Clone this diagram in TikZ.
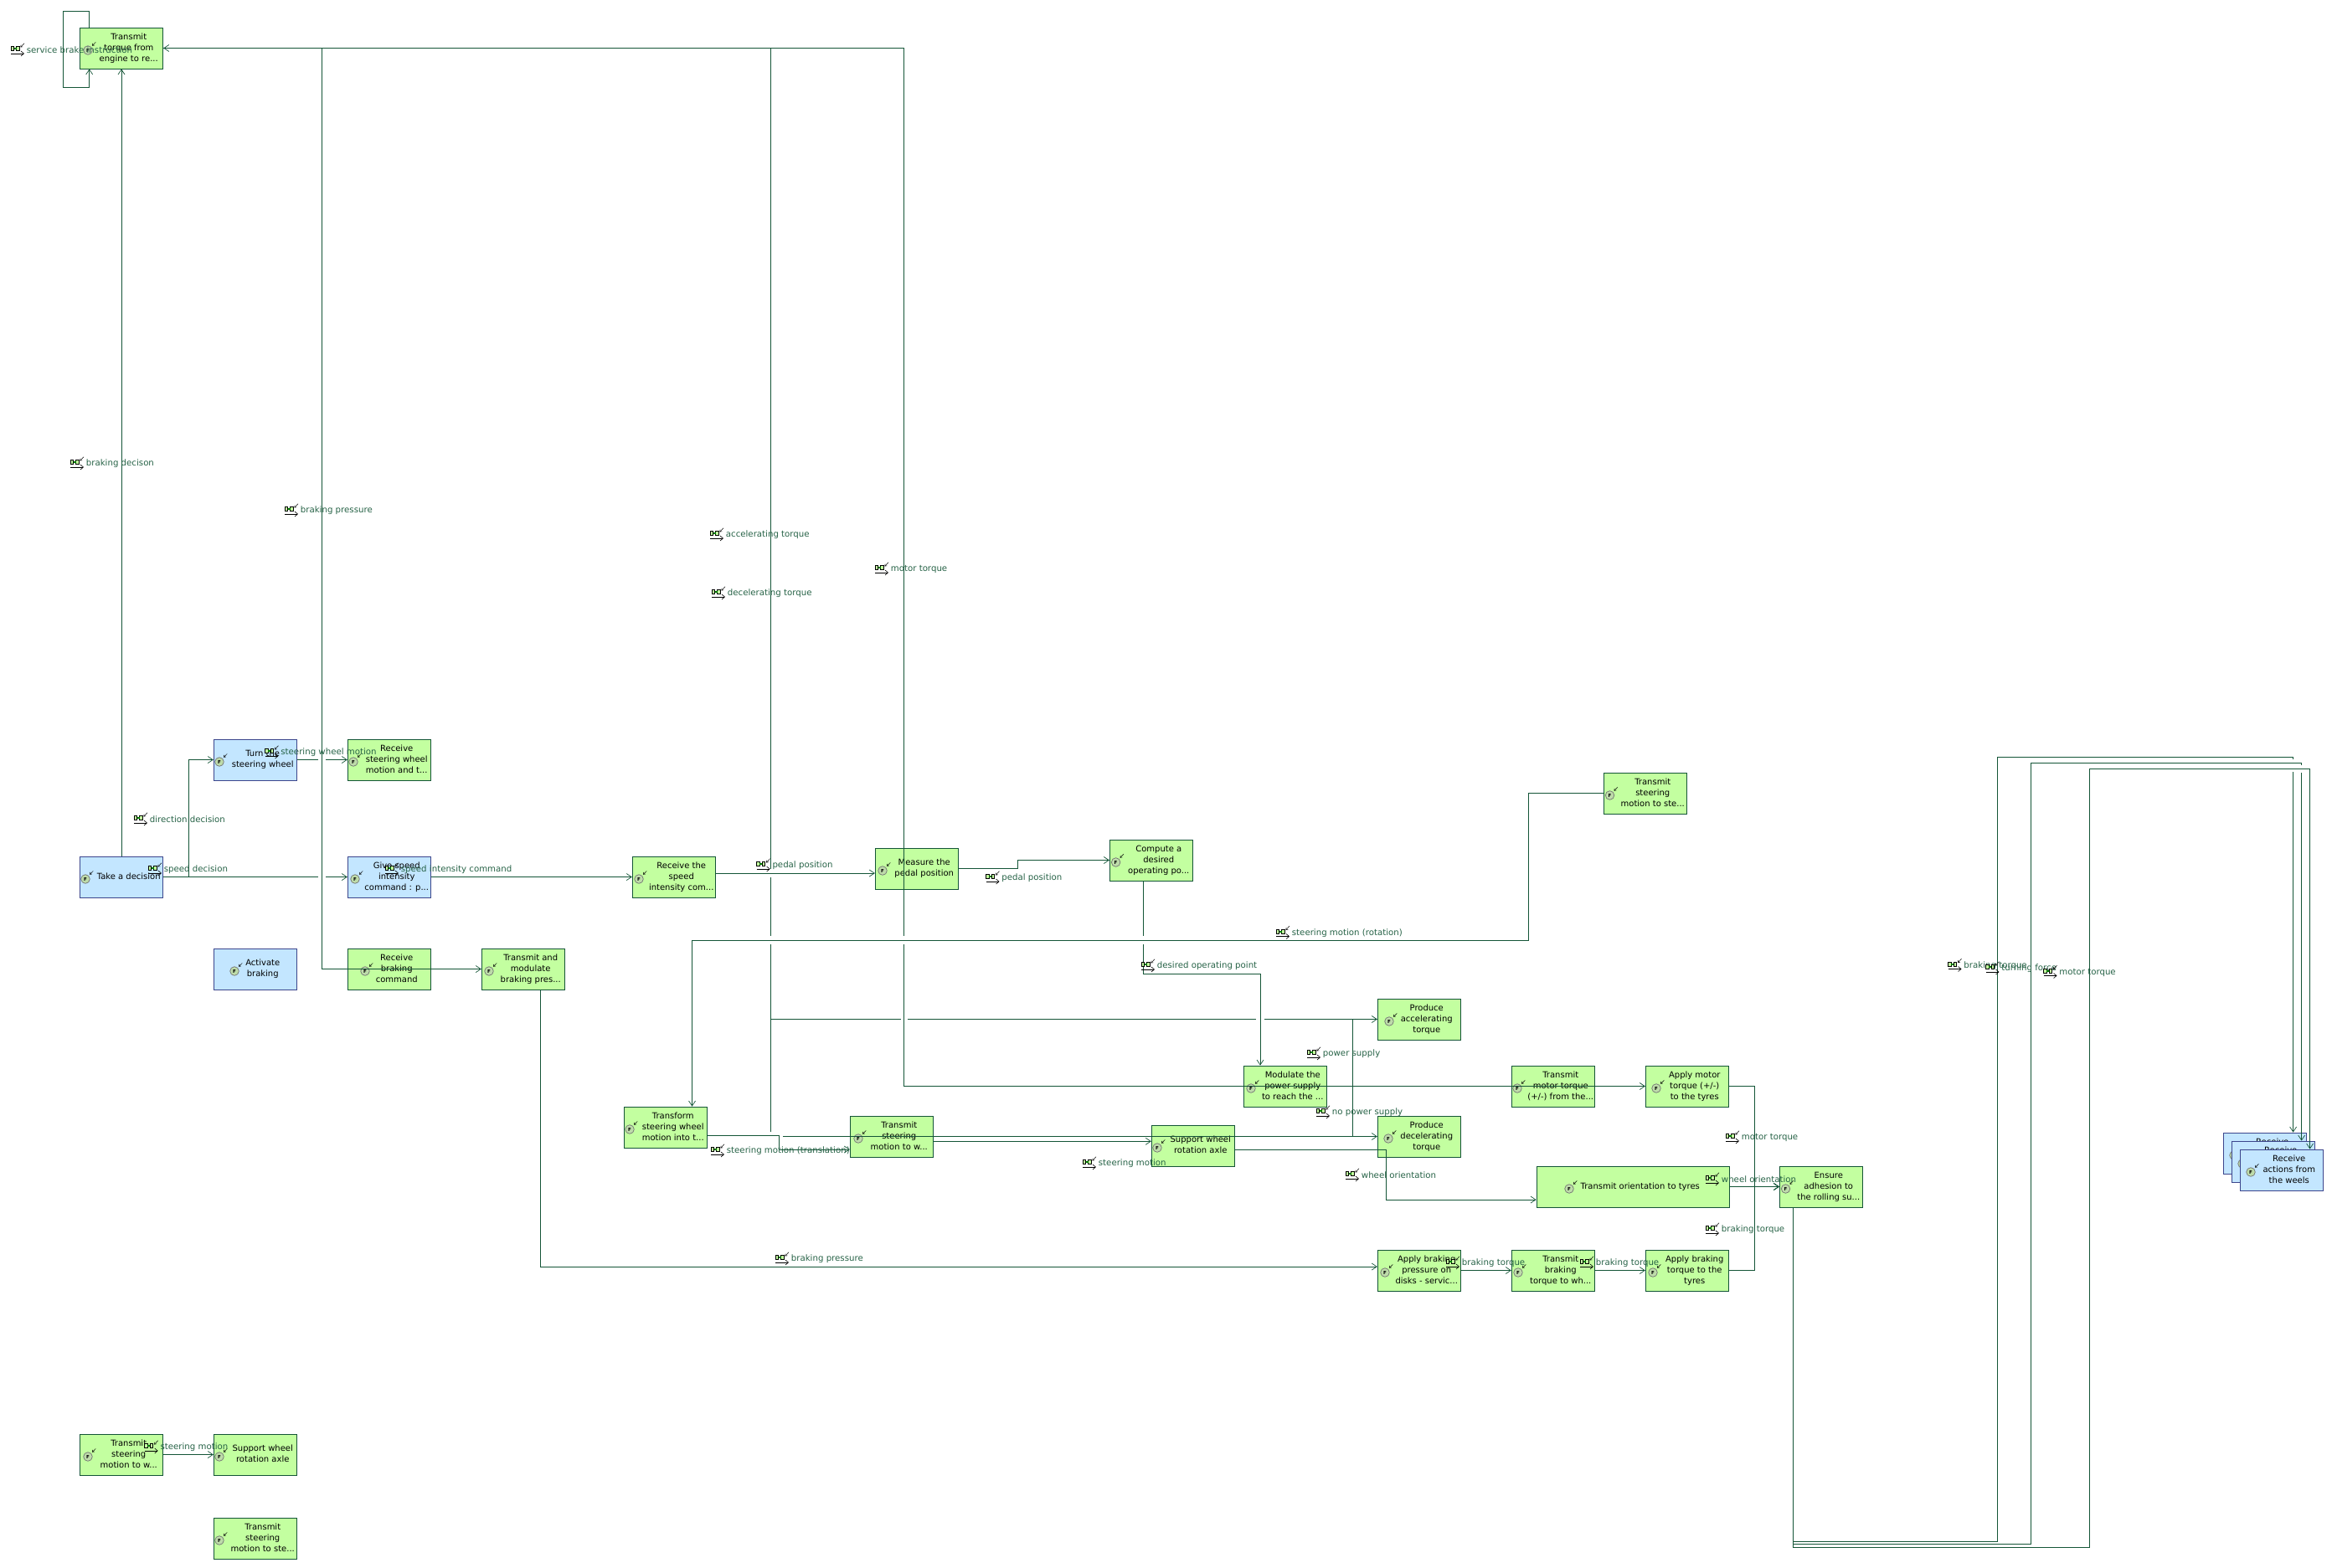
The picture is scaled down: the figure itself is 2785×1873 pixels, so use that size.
\documentclass[tikz,border=0pt]{standalone}
\usepackage{fontspec}
\setmainfont{DejaVu Sans}
\usepackage{xcolor}
\usetikzlibrary{arrows.meta}
\definecolor{FlowGreen}{RGB}{20,85,55}
\definecolor{LabelGreen}{RGB}{38,98,70}
\definecolor{FnGreen}{RGB}{195,255,160}
\definecolor{FnBlue}{RGB}{195,230,255}
\definecolor{ActorEdge}{RGB}{60,70,140}
\definecolor{MarkFill}{RGB}{190,220,170}
\newcommand{\fntext}[1]{\hspace*{17.5pt}\raisebox{-0.8pt}{\begin{tabular}{@{}c@{}}#1\end{tabular}}}

\begin{document}
\begin{tikzpicture}[x=1pt, y=-1pt, font=\fontsize{10}{13}\selectfont]
    \tikzset{
        greenfn/.style={rectangle, draw=FlowGreen, line width=0.75pt, fill=FnGreen,
            minimum width=99.5pt, minimum height=49pt, inner sep=0pt, align=center},
        bluefn/.style={greenfn, draw=ActorEdge, fill=FnBlue},
        flowline/.style={draw=FlowGreen, line width=0.7pt},
        flow/.style={flowline, -{Straight Barb[length=6pt,width=8pt]}},
        fxlabel/.style={anchor=west, inner sep=0pt, text=LabelGreen, font=\fontsize{10.2}{13}\selectfont},
        fnmark/.pic={
            \draw[black!55, fill=MarkFill, line width=0.7pt] (0,0) circle (5.3);
            \node[inner sep=0pt, font=\fontsize{5.5}{6}\selectfont\bfseries] (f) at (0,0) {F};
            \draw[black, line width=0.5pt, -{Straight Barb[length=2pt,width=3pt]}] (9.3,-9.7) -- (5,-5.3);
        },
        fxmark/.pic={
            \draw[black, line width=0.6pt, fill=FnGreen] (0,-4.5) rectangle (3.5,0.5);
            \draw[black, line width=0.6pt, fill=FnGreen] (6.5,-4.5) rectangle (10,0.5);
            \fill[green!50!black] (3.5,-3) rectangle (6.5,-1);
            \draw[black, line width=0.5pt, -{Straight Barb[length=2pt,width=3pt]}] (16,-8.3) -- (11.5,-3.5);
            \draw[black, line width=0.6pt, -{Straight Barb[length=3.5pt,width=6pt]}] (0,4) -- (16,4);
        }
    }
    \useasboundingbox (0,0) rectangle (2785,1873);
    \node[greenfn] (torque) at (145,57.5) {\fntext{Transmit\\torque from\\engine to re...}};
    \node[bluefn] (turnwheel) at (305,907.5) {\fntext{Turn the\\steering wheel}};
    \node[greenfn] (recvwheel) at (465,907.5) {\fntext{Receive\\steering wheel\\motion and t...}};
    \node[bluefn] (takedec) at (145,1047.5) {\fntext{Take a decision}};
    \node[bluefn] (givespeed) at (465,1047.5) {\fntext{Give speed\\intensity\\command : p...}};
    \node[bluefn] (activate) at (305,1157.5) {\fntext{Activate\\braking}};
    \node[greenfn] (recvbrake) at (465,1157.5) {\fntext{Receive\\braking\\command}};
    \node[greenfn] (transmod) at (625,1157.5) {\fntext{Transmit and\\modulate\\braking pres...}};
    \node[greenfn] (recvspeed) at (805,1047.5) {\fntext{Receive the\\speed\\intensity com...}};
    \node[greenfn] (measure) at (1095,1037.5) {\fntext{Measure the\\pedal position}};
    \node[greenfn] (compute) at (1375,1027.5) {\fntext{Compute a\\desired\\operating po...}};
    \node[greenfn] (tosteer) at (1965,947.5) {\fntext{Transmit\\steering\\motion to ste...}};
    \node[greenfn] (transform) at (795,1346.5) {\fntext{Transform\\steering wheel\\motion into t...}};
    \node[greenfn] (towheel) at (1065,1357.5) {\fntext{Transmit\\steering\\motion to w...}};
    \node[greenfn] (support) at (1425,1368.5) {\fntext{Support wheel\\rotation axle}};
    \node[greenfn] (prodacc) at (1695,1217.5) {\fntext{Produce\\accelerating\\torque}};
    \node[greenfn] (modulate) at (1535,1297.5) {\fntext{Modulate the\\power supply\\to reach the ...}};
    \node[greenfn] (motortr) at (1855,1297.5) {\fntext{Transmit\\motor torque\\(+/-) from the...}};
    \node[greenfn] (applymotor) at (2015,1297.5) {\fntext{Apply motor\\torque (+/-)\\to the tyres}};
    \node[greenfn] (proddec) at (1695,1357.5) {\fntext{Produce\\decelerating\\torque}};
    \node[greenfn, minimum width=230pt] (orient) at (1950,1417.5) {\fntext{Transmit orientation to tyres}};
    \node[greenfn] (ensure) at (2175,1417.5) {\fntext{Ensure\\adhesion to\\the rolling su...}};
    \node[greenfn] (brakedisk) at (1695,1517.5) {\fntext{Apply braking\\pressure on\\disks - servic...}};
    \node[greenfn] (braketr) at (1855,1517.5) {\fntext{Transmit\\braking\\torque to wh...}};
    \node[greenfn] (applybrake) at (2015,1517.5) {\fntext{Apply braking\\torque to the\\tyres}};
    \node[greenfn] (lowwheel) at (145,1737.5) {\fntext{Transmit\\steering\\motion to w...}};
    \node[greenfn] (lowsupport) at (305,1737.5) {\fntext{Support wheel\\rotation axle}};
    \node[greenfn] (lowsteer) at (305,1837.5) {\fntext{Transmit\\steering\\motion to ste...}};
    \foreach \ix/\iy [count=\ni] in {105/60, 262/910, 422/910, 102/1050, 424/1050, 280/1160,
            436/1160, 584/1160, 763/1050, 1054/1040, 1332.6/1030, 1922.5/950, 752/1349,
            1025/1360, 1382/1371, 1659/1220, 1494/1300, 1812/1300, 1978/1300, 1658/1360,
            1874/1420, 2132.5/1420, 1654/1520, 1813/1520, 1974/1520, 105/1740, 262/1740, 262/1840}
        \pic (icon\ni) at (\ix,\iy) {fnmark};
    \node[bluefn] (actionsa) at (2705,1377.5) {\fntext{Receive\\actions from\\the weels}};
    \pic (iconsa) at (2668,1380) {fnmark};
    \node[bluefn] (actionsb) at (2715,1387.5) {\fntext{Receive\\actions from\\the weels}};
    \pic (iconsb) at (2678,1390) {fnmark};
    \node[bluefn] (actionsc) at (2725,1397.5) {\fntext{Receive\\actions from\\the weels}};
    \pic (iconsc) at (2688,1400) {fnmark};
    \coordinate (acctap) at (920,1217.5);
    \coordinate (decstart) at (935,1357.5);
    \coordinate (dectee) at (1615.7,1217.5);
    \draw[flow] (torque.north -| 106.7,0) -- (106.7,13.3) -- (75.3,13.3) -- (75.3,104.3) -- (106.7,104.3) -- (torque.south -| 106.7,0);
    \draw[flow] (takedec.north) -- (torque.south);
    \draw[flow] (takedec.east) -- (225.5,1047.5) -- (225.5,907.5) -- (turnwheel.west);
    \draw[flow] (takedec.east) -- (380,1047.5) (389,1047.5) -- (givespeed.west);
    \draw[flow] (turnwheel.east) -- (380,907.5) (389,907.5) -- (recvwheel.west);
    \draw[flow] (givespeed.east) -- (recvspeed.west);
    \draw[flow] (torque.east) -- (384.5,57.5) -- (384.5,1157.5) -- (transmod.west);
    \draw[flow] (modulate.west) -- (1079.5,1297.5) -- (1079.5,1128) (1079.5,1118) -- (1079.5,57.5) -- (torque.east);
    \draw[flowline] (torque.east) -- (920.3,57.5) -- (920.3,1038) (920.3,1048) -- (920.3,1118) (920.3,1128) -- (920.3,1352);
    \draw[flow] (acctap) -- (1075.7,1217.5) (1084,1217.5) -- (1500,1217.5) (1510,1217.5) -- (prodacc.west);
    \draw[flowline] (dectee) -- (1615.7,1357.5);
    \draw[flow] (decstart) -- (proddec.west);
    \draw[flow] (recvspeed.east |- 0,1043) -- (measure.west |- 0,1043);
    \draw[flow] (measure.east) -- (1215.8,1037.5) -- (1215.8,1027.5) -- (compute.west);
    \draw[flow] (compute.south -| 1365.5,0) -- (1365.5,1118) (1365.5,1128) -- (1365.5,1163) -- (1505,1163) -- (modulate.north -| 1505,0);
    \draw[flow] (tosteer.west) -- (1825.5,947.5) -- (1825.5,1123.3) -- (826.5,1123.3) -- (transform.north -| 826.5,0);
    \draw[flow] (transform.east |- 0,1356.7) -- (930.7,1356.7) -- (930.7,1373) -- (towheel.west |- 0,1373);
    \draw[flow] (towheel.east |- 0,1363.3) -- (support.west |- 0,1363.3);
    \draw[flow] (support.east |- 0,1373) -- (1655,1373) -- (1655,1433) -- (orient.west |- 0,1433);
    \draw[flow] (modulate.west) -- (applymotor.west);
    \draw[flow] (applymotor.east) -- (2095.6,1297.5) -- (2095.6,1417.5) -- (ensure.west);
    \draw[flow] (applybrake.east) -- (2095.6,1517.5) -- (2095.6,1417.5) -- (ensure.west);
    \draw[flow] (orient.east) -- (ensure.west);
    \draw[flow] (transmod.south -| 645.5,0) -- (645.5,1513) -- (brakedisk.west |- 0,1513);
    \draw[flow] (brakedisk.east) -- (braketr.west);
    \draw[flow] (braketr.east) -- (applybrake.west);
    \draw[flow] (lowwheel.east) -- (lowsupport.west);
    \draw[flow] (ensure.south -| 2141.3,0) -- (2141.3,1841.3) -- (2385.3,1841.3) -- (2385.3,904.5) -- (2738.6,904.5) -- (2738.6,907) (2738.6,922) -- (actionsa.north -| 2738.6,0);
    \draw[flow] (ensure.south -| 2141.3,0) -- (2141.3,1844.3) -- (2425.3,1844.3) -- (2425.3,911.4) -- (2748.6,911.4) -- (2748.6,914) (2748.6,923) -- (actionsb.north -| 2748.6,0);
    \draw[flow] (ensure.south -| 2141.3,0) -- (2141.3,1848.3) -- (2495.3,1848.3) -- (2495.3,918.3) -- (2758.6,918.3) -- (actionsc.north -| 2758.6,0);
    \foreach \lx/\ly/\ltxt [count=\nl] in {13/59/service brake instruction, 84/553/braking decison,
            340/609/braking pressure, 848/638/accelerating torque, 850/708/decelerating torque,
            1045/679/motor torque, 316.5/898/steering wheel motion, 160/978/direction decision,
            177/1038/speed decision, 460/1038/speed intensity command, 903.6/1033/pedal position,
            1177.5/1048/pedal position, 1524/1113.5/steering motion (rotation),
            1363/1153/desired operating point, 849/1374/steering motion (translation),
            1293/1389/steering motion, 1561/1258/power supply, 1572/1328/no power supply,
            1607/1403/wheel orientation, 2061/1358/motor torque, 2037/1408/wheel orientation,
            2037/1468/braking torque, 926/1503/braking pressure, 1727/1508/braking torque,
            1887/1508/braking torque, 2326.5/1152.5/braking torque, 2371.5/1156/turning force,
            2440.5/1160.5/motor torque, 172.7/1728/steering motion} {
        \pic at (\lx,\ly+1) {fxmark};
        \node[fxlabel] (fx\nl) at (\lx+18.7,\ly+1) {\ltxt};
    }
\end{tikzpicture}
\end{document}
